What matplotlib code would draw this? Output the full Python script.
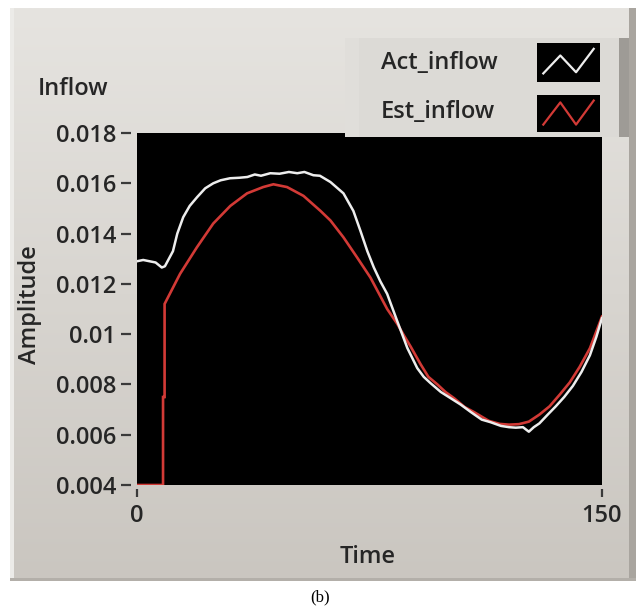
import numpy as np
import matplotlib
matplotlib.use('Agg')
import matplotlib.pyplot as plt
from matplotlib.patches import Rectangle

# ---- data ----
act_time = [0, 2, 4, 6, 8, 9, 11.6, 13, 14.9, 17, 19.4, 22, 24.6, 27, 30, 33, 35.6,
            38, 40, 43, 46, 49, 51.7, 54, 56.9, 59, 62.4, 66.6, 69.8, 72.1, 74.3,
            76.4, 78.5, 80.7, 82.5, 84, 87.2, 90.4, 92.5, 94.7, 98, 101.2, 104.4,
            107.7, 111.2, 114, 117.4, 120, 122.2, 124.5, 126.4, 128, 129.8, 132.5,
            135.1, 137.8, 140.6, 143.4, 146.1, 148.2, 150]
act_inflow = [0.0129, 0.01295, 0.0129, 0.01285, 0.01265, 0.0127, 0.0133, 0.0140,
              0.01465, 0.0151, 0.01545, 0.0158, 0.0160, 0.01612, 0.0162, 0.01622,
              0.01625, 0.01635, 0.0163, 0.0164, 0.01638, 0.01645, 0.0164, 0.01645,
              0.01632, 0.0163, 0.01605, 0.0156, 0.0149, 0.0141, 0.0133, 0.01265,
              0.0121, 0.0116, 0.0110, 0.0105, 0.00945, 0.00865, 0.0083, 0.00805,
              0.0077, 0.00745, 0.0072, 0.0069, 0.0066, 0.0065, 0.00635, 0.0063,
              0.00628, 0.0063, 0.00612, 0.0063, 0.00645, 0.0068, 0.00713, 0.0075,
              0.00794, 0.0085, 0.00916, 0.0099, 0.01064]

est_time = [0, 8.4, 8.4, 8.9, 8.9, 13.9, 19.3, 24.6, 30.1, 35.5, 40.7, 44, 48.4,
            53.7, 59.2, 62.4, 66.6, 71, 75.3, 80.7, 84, 86.1, 88.3, 91.5, 94,
            96.9, 99.5, 102.3, 105.7, 108.7, 113.5, 117, 120, 123.2, 126.4, 129.8,
            133.1, 136.4, 139.6, 142.8, 146.1, 150]
est_inflow = [0.004, 0.004, 0.0075, 0.0075, 0.0112, 0.0124, 0.01345, 0.0144,
              0.0151, 0.0156, 0.01585, 0.01596, 0.01585, 0.0155, 0.0149, 0.01452,
              0.01385, 0.01305, 0.01225, 0.0110, 0.0104, 0.00995, 0.0095, 0.0088,
              0.0083, 0.0080, 0.0077, 0.00745, 0.0071, 0.0069, 0.00655, 0.00643,
              0.0064, 0.00642, 0.00652, 0.0068, 0.00713, 0.0076, 0.00808, 0.0087,
              0.00944, 0.0107]

y_ticks = [0.004, 0.006, 0.008, 0.010, 0.012, 0.014, 0.016, 0.018]
y_tick_labels = ['0.004', '0.006', '0.008', '0.01', '0.012', '0.014', '0.016', '0.018']
x_ticks = [0, 150]
x_tick_labels = ['0', '150']
series_names = ['Act_inflow', 'Est_inflow']
series_colors = ['#ededed', '#d23a36']

W, H = 641, 609
FONT = ['Open Sans', 'DejaVu Sans']
TXT = '#262626'
WEIGHT = 600


def fx(px):
    return px / W


def fy(py):
    return 1 - py / H


plt.rcParams['font.family'] = FONT
plt.rcParams['font.weight'] = WEIGHT
fig = plt.figure(figsize=(W / 100, H / 100), dpi=100, facecolor='white')

# gray LabVIEW-like panel with a soft vertical gradient
bg = fig.add_axes([fx(10), fy(581), fx(626), 573 / H], zorder=0)
grad = np.linspace(0, 1, 256).reshape(-1, 1)
c_top = np.array([0xe6, 0xe4, 0xe0]) / 255
c_bot = np.array([0xca, 0xc6, 0xc0]) / 255
img = c_top[None, None, :] * (1 - grad[..., None]) + c_bot[None, None, :] * grad[..., None]
bg.imshow(img, aspect='auto', extent=[0, 1, 0, 1])
bg.axis('off')
fig.patches.append(Rectangle((fx(10), fy(581)), fx(4), 573 / H, transform=fig.transFigure,
                             facecolor='#ecebe8', edgecolor='none', zorder=1))
fig.patches.append(Rectangle((fx(629), fy(581)), fx(7), 573 / H, transform=fig.transFigure,
                             facecolor='#a9a59f', edgecolor='none', zorder=1))
fig.patches.append(Rectangle((fx(10), fy(581)), fx(626), 3 / H, transform=fig.transFigure,
                             facecolor='#b3afa9', edgecolor='none', zorder=1))

# main plot
ax = fig.add_axes([fx(137), fy(485), fx(465), 352 / H], zorder=2)
ax.set_facecolor('black')
ax.plot(est_time, est_inflow, color=series_colors[1], lw=1.9, solid_joinstyle='miter')
ax.plot(act_time, act_inflow, color=series_colors[0], lw=1.8)
ax.set_xlim(0, 150)
ax.set_ylim(0.004, 0.018)
for s in ax.spines.values():
    s.set_visible(False)
ax.spines['left'].set_position(('outward', 4))
ax.spines['bottom'].set_position(('outward', 3))
ax.set_yticks(y_ticks)
ax.set_yticklabels(y_tick_labels)
ax.set_xticks(x_ticks)
ax.set_xticklabels(x_tick_labels)
ax.tick_params(axis='y', length=7, width=1.6, color='#3a3a3a', pad=4,
               labelsize=17, labelcolor=TXT)
ax.tick_params(axis='x', length=6, width=1.6, color='#3a3a3a', pad=5,
               labelsize=17, labelcolor=TXT)

# axis titles
fig.text(fx(38), fy(89), 'Inflow', fontsize=17, color=TXT, ha='left', va='center')
fig.text(fx(30), fy(305), 'Amplitude', fontsize=17, color=TXT, ha='center', va='center',
         rotation=90)
fig.text(fx(368), fy(557), 'Time', fontsize=17, color=TXT, ha='center', va='center')
fig.text(fx(320), fy(597), '(b)', fontsize=12, color='black', ha='center', va='center',
         family=['Liberation Serif', 'DejaVu Serif'], fontweight='normal')

# legend box (plot legend panel drawn on top of the plot)
lg = fig.add_axes([fx(345), fy(137), fx(284), 99 / H], zorder=5)
lg.set_xlim(0, 1)
lg.set_ylim(0, 1)
lg.add_patch(Rectangle((0, 0), 1, 1, facecolor='#dcdad6', edgecolor='none'))
lg.add_patch(Rectangle((0.965, 0), 0.035, 1, facecolor='#9e9b96', edgecolor='none'))
lg.add_patch(Rectangle((0, 0), 0.05, 1, facecolor='#e0deda', edgecolor='none'))
lg.axis('off')

swatch_rows = [(43, 82), (95, 132)]
label_rows = [63, 112]
zig_x = [0.1, 0.37, 0.62, 0.9]
zig_y = [[0.22, 0.68, 0.25, 0.85], [0.2, 0.8, 0.2, 0.85]]
for name, color, (top, bot), yc, zy in zip(series_names, series_colors, swatch_rows,
                                             label_rows, zig_y):
    fig.text(fx(381), fy(yc), name, fontsize=17, color=TXT, ha='left', va='center',
             zorder=6)
    sw = fig.add_axes([fx(537), fy(bot), fx(63), (bot - top) / H], zorder=6)
    sw.set_facecolor('black')
    sw.plot(zig_x, zy, color=color, lw=1.6)
    sw.set_xlim(0, 1)
    sw.set_ylim(0, 1)
    sw.set_xticks([])
    sw.set_yticks([])
    for s in sw.spines.values():
        s.set_visible(False)

fig.savefig('out.png', dpi=100, facecolor='white')
